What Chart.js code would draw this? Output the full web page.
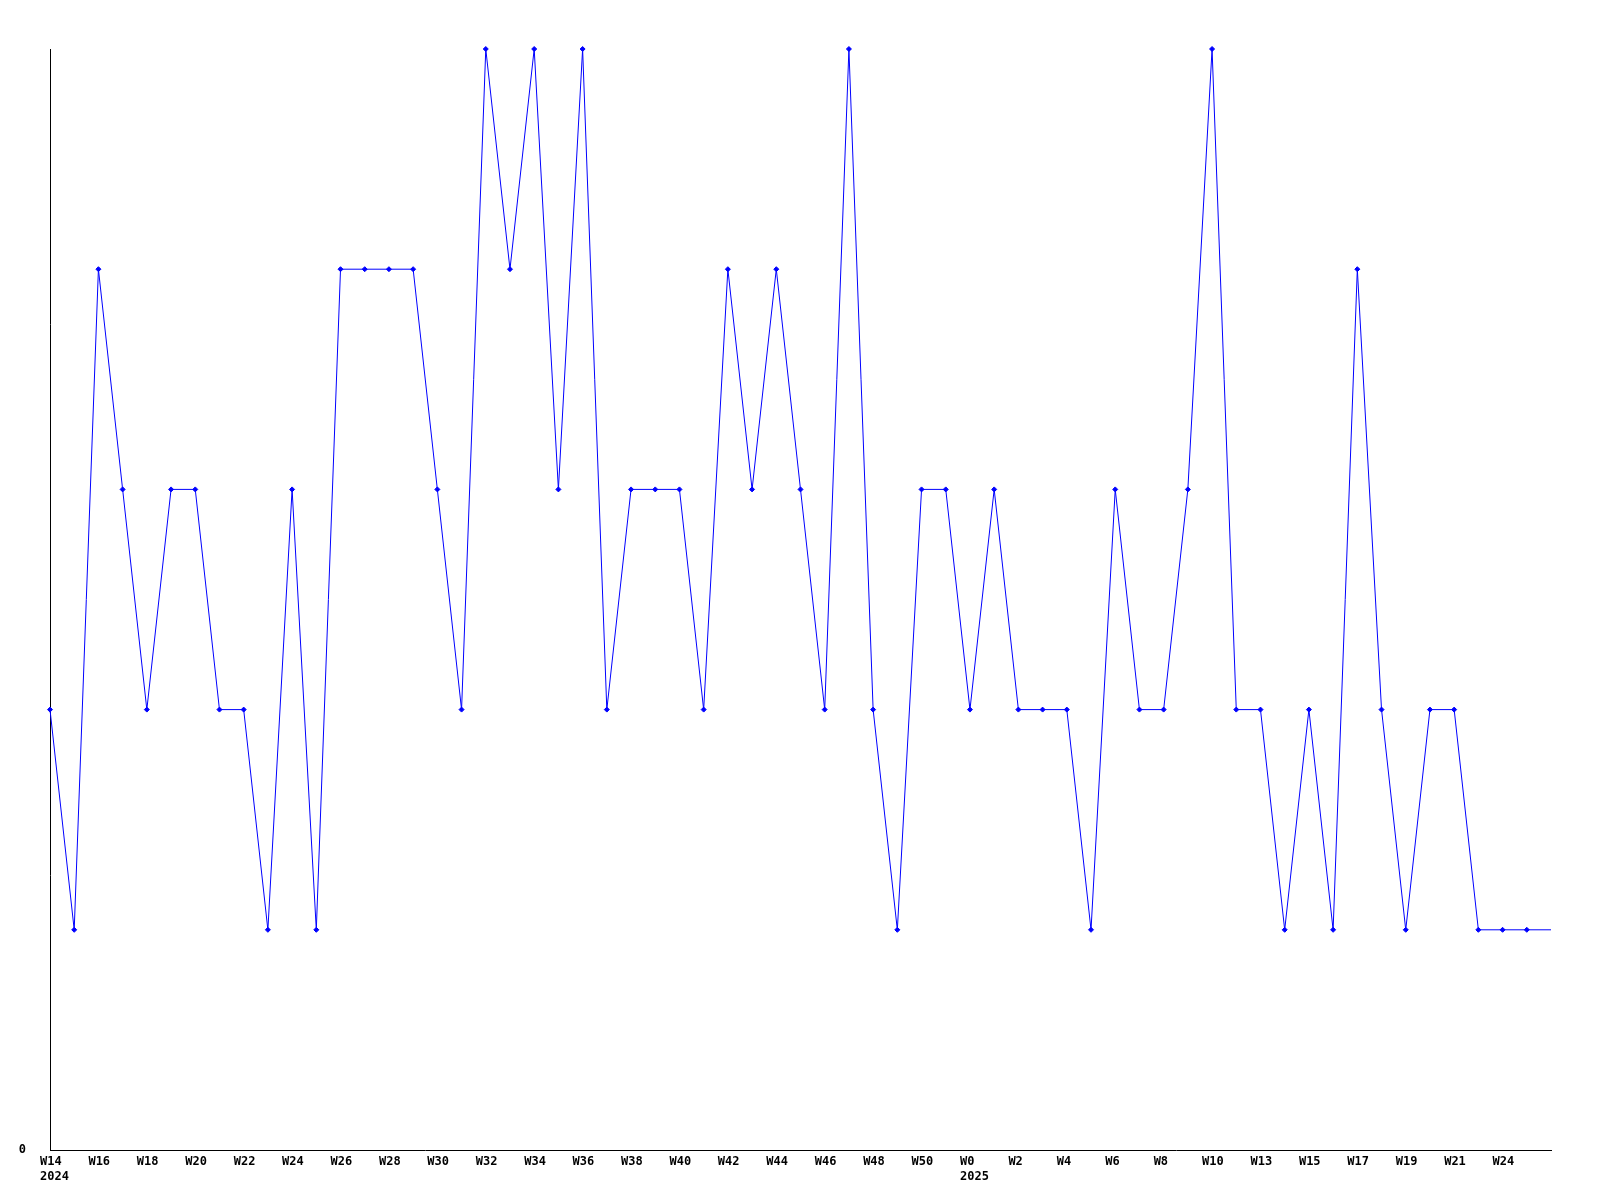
<!DOCTYPE html>
<html>
<head>
<meta charset="utf-8">
<script src="https://cdn.jsdelivr.net/npm/chart.js@4/dist/chart.umd.min.js"></script>
<style>
  html, body { margin: 0; padding: 0; background: #fff; }
  #wrap { width: 1600px; height: 1200px; }
</style>
</head>
<body>
<div id="wrap"><canvas id="weekChart" width="1600" height="1200"></canvas></div>
<script>
// 주 라벨 (2024 W14 ~ 2025 W26)
const weeks = [
    ['W14', '2024'], 'W15', 'W16', 'W17', 'W18', 'W19', 'W20', 'W21', 'W22', 'W23',
    'W24', 'W25', 'W26', 'W27', 'W28', 'W29', 'W30', 'W31', 'W32', 'W33',
    'W34', 'W35', 'W36', 'W37', 'W38', 'W39', 'W40', 'W41', 'W42', 'W43',
    'W44', 'W45', 'W46', 'W47', 'W48', 'W49', 'W50', 'W51', ['W0', '2025'], 'W1',
    'W2', 'W3', 'W4', 'W5', 'W6', 'W7', 'W8', 'W9', 'W10', 'W12',
    'W13', 'W14', 'W15', 'W16', 'W17', 'W18', 'W19', 'W20', 'W21', 'W23',
    'W24', 'W25', 'W26'
];

// 주별 값
const counts = [
    2, 1, 4, 3, 2, 3, 3, 2, 2, 1,
    3, 1, 4, 4, 4, 4, 3, 2, 5, 4,
    5, 3, 5, 2, 3, 3, 3, 2, 4, 3,
    4, 3, 2, 5, 2, 1, 3, 3, 2, 3,
    2, 2, 2, 1, 3, 2, 2, 3, 5, 2,
    2, 1, 2, 1, 4, 2, 1, 2, 2, 1,
    1, 1, 1
];

// y축 범위
const yMin = 0;
const yMax = 5;

const tickFont = { family: 'DejaVu Sans Mono', size: 12, weight: 'bold', lineHeight: 1.25 };

const ctx = document.getElementById('weekChart').getContext('2d');
const weekChart = new Chart(ctx, {
    type: 'line',
    data: {
        labels: weeks,
        datasets: [{
            data: counts,
            borderColor: '#0000ff',
            backgroundColor: '#0000ff',
            borderWidth: 1,
            fill: false,
            tension: 0,
            clip: false,
            pointStyle: 'rectRot',
            pointRadius: c => (c.dataIndex === counts.length - 1 ? 0 : 2.5),
            pointBorderWidth: 1
        }]
    },
    options: {
        responsive: false,
        animation: false,
        layout: { padding: { left: 0, right: 49, top: 49, bottom: 0 } },
        plugins: {
            legend: { display: false },
            tooltip: { enabled: false }
        },
        scales: {
            x: {
                offset: false,
                grid: { display: false, drawTicks: false },
                border: { display: true, color: '#000', width: 1 },
                ticks: {
                    autoSkip: false,
                    maxRotation: 0,
                    minRotation: 0,
                    align: 'start',
                    labelOffset: -10,
                    padding: 4,
                    color: '#000',
                    font: tickFont,
                    // 두 칸마다 라벨, 마지막 주는 생략
                    callback: function (value, index) {
                        if (index % 2 !== 0 || index === weeks.length - 1) return '';
                        return this.getLabelForValue(value);
                    }
                },
                afterFit: scale => { scale.height = 50; }
            },
            y: {
                min: yMin,
                max: yMax,
                grid: { display: false, drawTicks: false },
                border: { display: true, color: '#000', width: 1 },
                ticks: {
                    stepSize: 1,
                    padding: 24,
                    color: '#000',
                    font: tickFont,
                    callback: value => (value === 0 ? '0' : '')
                },
                afterFit: scale => { scale.width = 50; }
            }
        }
    }
});
</script>
</body>
</html>
